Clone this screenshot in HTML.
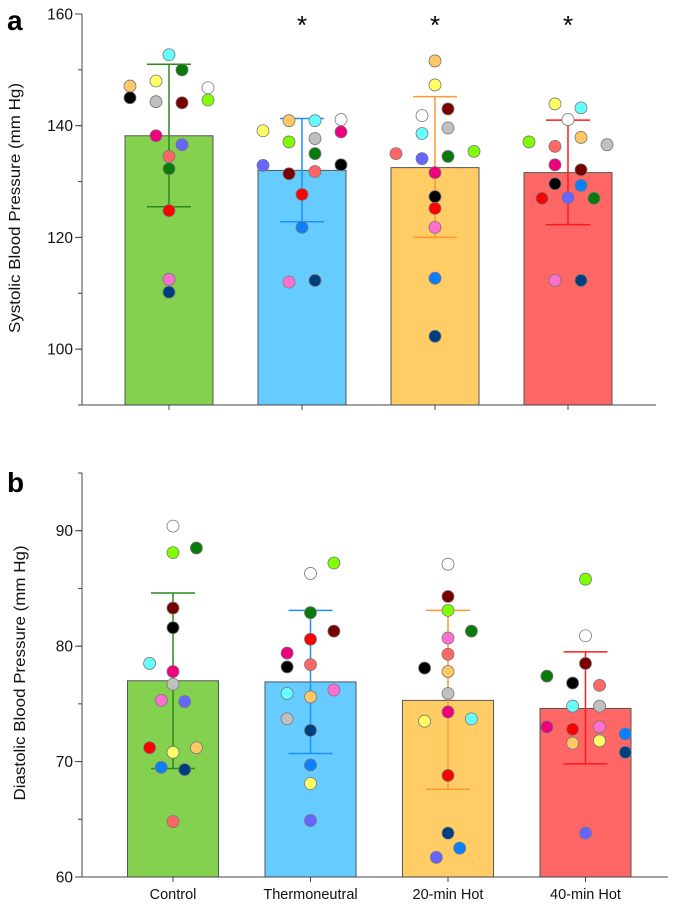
<!DOCTYPE html>
<html><head><meta charset="utf-8"><style>
body{margin:0;background:#fff;}
svg text{font-family:"Liberation Sans",Arial,sans-serif;}
</style></head><body>
<svg id="chart" width="680" height="910" viewBox="0 0 680 910" xmlns="http://www.w3.org/2000/svg"></svg>
<script>
const categories=["Control","Thermoneutral","20-min Hot","40-min Hot"];
const sysMeans=[138.2,132,132.5,131.6];
const sysLow=[125.5,122.8,120,122.3];
const sysHigh=[151,141.3,145.2,141];
const diaMeans=[77,76.9,75.3,74.6];
const diaLow=[69.4,70.7,67.6,69.8];
const diaHigh=[84.6,83.1,83.1,79.5];
const sysTicks=[100,120,140,160];
const diaTicks=[60,70,80,90];
const sig=[false,true,true,true];
const sysPts=[
 [[152.7,'cy',0],[150,'dg',1],[147.1,'or',-3],[148,'ye',-1],[146.8,'wh',3],[145,'bk',-3],[144.3,'gr',-1],[144.1,'dr',1],[144.6,'lg',3],[138.2,'mg',-1],[136.6,'pu',1],[134.5,'sa',0],[132.3,'dg',0],[124.8,'rd',0],[112.5,'pk',0],[110.2,'db',0]],
 [[139.1,'ye',-3],[140.9,'or',-1],[140.9,'cy',1],[141.1,'wh',3],[138.9,'mg',3],[137.1,'lg',-1],[137.7,'gr',1],[135,'dg',1],[132.9,'pu',-3],[133,'bk',3],[131.4,'dr',-1],[131.8,'sa',1],[127.7,'rd',0],[121.8,'bl',0],[112,'pk',-1],[112.3,'db',1]],
 [[151.6,'or',0],[147.3,'ye',0],[141.8,'wh',-1],[143,'dr',1],[138.6,'cy',-1],[139.6,'gr',1],[135,'sa',-3],[134.1,'pu',-1],[134.5,'dg',1],[135.4,'lg',3],[131.6,'mg',0],[127.3,'bk',0],[125.2,'rd',0],[121.8,'pk',0],[112.7,'bl',0],[102.3,'db',0]],
 [[143.9,'ye',-1],[143.2,'cy',1],[141.1,'wh',0],[137.1,'lg',-3],[136.3,'sa',-1],[137.9,'or',1],[136.6,'gr',3],[133,'mg',-1],[132.1,'dr',1],[129.6,'bk',-1],[129.3,'bl',1],[127,'rd',-2],[127.1,'pu',0],[127,'dg',2],[112.3,'pk',-1],[112.3,'db',1]]
];
const diaPts=[
 [[90.4,'wh',0],[88.1,'lg',0],[88.5,'dg',2],[83.3,'dr',0],[81.6,'bk',0],[78.5,'cy',-2],[77.8,'mg',0],[76.7,'gr',0],[75.3,'pk',-1],[75.2,'pu',1],[71.2,'rd',-2],[70.8,'ye',0],[71.2,'or',2],[69.5,'bl',-1],[69.3,'db',1],[64.8,'sa',0]],
 [[87.2,'lg',2],[86.3,'wh',0],[82.9,'dg',0],[81.3,'dr',2],[80.6,'rd',0],[79.4,'mg',-2],[78.2,'bk',-2],[78.4,'sa',0],[75.9,'cy',-2],[75.6,'or',0],[76.2,'pk',2],[73.7,'gr',-2],[72.7,'db',0],[69.7,'bl',0],[68.1,'ye',0],[64.9,'pu',0]],
 [[87.1,'wh',0],[84.3,'dr',0],[83.1,'lg',0],[81.3,'dg',2],[80.7,'pk',0],[79.3,'sa',0],[78.1,'bk',-2],[77.8,'or',0],[75.9,'gr',0],[74.3,'mg',0],[73.5,'ye',-2],[73.7,'cy',2],[68.8,'rd',0],[63.8,'db',0],[62.5,'bl',1],[61.7,'pu',-1]],
 [[85.8,'lg',0],[80.9,'wh',0],[78.5,'dr',0],[77.4,'dg',-3.3],[76.8,'bk',-1.1],[76.6,'sa',1.2],[74.8,'cy',-1.1],[74.8,'gr',1.2],[73,'mg',-3.3],[72.8,'rd',-1.1],[73,'pk',1.2],[71.6,'or',-1.1],[71.8,'ye',1.2],[72.4,'bl',3.4],[70.8,'db',3.4],[63.8,'pu',0]]
];
const ptColors={cy:'#66ffff',dg:'#0a7a0a',or:'#ffc866',ye:'#ffff66',wh:'#ffffff',bk:'#000000',gr:'#c0c0c0',dr:'#7a0000',lg:'#80ff00',mg:'#f0007f',pu:'#6666ff',sa:'#ff6666',rd:'#ff0000',pk:'#ff6fcf',bl:'#0a80ff',db:'#003f7f'};
const barFill=['#84d14f','#66ccff','#ffcc66','#ff6666'];
const errCol=['#2a8a1a','#1e8fff','#ff9930','#ff1a1a'];
const NS='http://www.w3.org/2000/svg';
const svg=document.getElementById('chart');
function mk(t,a,p){const e=document.createElementNS(NS,t);for(const k in a)e.setAttribute(k,a[k]);(p||svg).appendChild(e);return e;}
function panel(cfg){
 const g=mk('g',{});
 
 
 const y=v=>cfg.y0-(v-cfg.vmin)/(cfg.vmax-cfg.vmin)*(cfg.y0-cfg.y1);
 const x=i=>cfg.cx0+i*cfg.step;
 categories.forEach((c,i)=>{
  const r=mk('rect',{x:x(i)-cfg.bw/2,y:y(cfg.means[i]),width:cfg.bw,height:cfg.y0-y(cfg.means[i]),fill:barFill[i],stroke:'#555','stroke-width':1},g);
  
  
 });
 categories.forEach((c,i)=>{
  const eg=mk('g',{stroke:errCol[i],'stroke-width':1.5},g);
  
  
  mk('line',{x1:x(i),x2:x(i),y1:y(cfg.low[i]),y2:y(cfg.high[i])},eg);
  mk('line',{x1:x(i)-22,x2:x(i)+22,y1:y(cfg.low[i]),y2:y(cfg.low[i])},eg);
  mk('line',{x1:x(i)-22,x2:x(i)+22,y1:y(cfg.high[i]),y2:y(cfg.high[i])},eg);
 });
 cfg.pts.forEach((grp,i)=>{grp.forEach(p=>{
  const c=mk('circle',{cx:x(i)+p[2]*cfg.jit,cy:y(p[0]),r:6,fill:ptColors[p[1]],stroke:'#777','stroke-width':0.8},g);
  
  
 });});
 const ax=mk('path',{d:`M${cfg.ax} ${cfg.y1} V${cfg.y0} H${cfg.axr}`,fill:'none',stroke:'#444','stroke-width':1},g);
 
 
 for(let v=cfg.vmin;v<=cfg.vmax;v+=cfg.minor){mk('line',{x1:cfg.ax-4,x2:cfg.ax,y1:y(v),y2:y(v),stroke:'#444'},g);}
 cfg.ticks.forEach(v=>{
  mk('line',{x1:cfg.ax-7,x2:cfg.ax,y1:y(v),y2:y(v),stroke:'#444'},g);
  const t=mk('text',{x:cfg.ax-9,y:y(v)+5.5,'text-anchor':'end','font-size':15.5,fill:'#111'},g);
  t.textContent=v;
  
  
 });
 categories.forEach((c,i)=>{mk('line',{x1:x(i),x2:x(i),y1:cfg.y0,y2:cfg.y0+5,stroke:'#444'},g);});
 const yt=mk('text',{x:0,y:0,transform:`translate(${cfg.tx},${cfg.tcy}) rotate(-90)`,'text-anchor':'middle','font-size':16,fill:'#111',textLength:cfg.tlen,lengthAdjust:'spacingAndGlyphs'},g);
 yt.textContent=cfg.title;
 
 
 const pl=mk('text',{x:7,y:cfg.labY,'font-size':28,'font-weight':'bold',fill:'#000'},g);
 pl.textContent=cfg.label;
 
 
 if(cfg.sig){categories.forEach((c,i)=>{if(sig[i]){
  const s=mk('text',{x:x(i),y:34,'text-anchor':'middle','font-size':26,fill:'#000'},g);
  s.textContent='*';
  
  
 }});}
 if(cfg.xlabels){categories.forEach((c,i)=>{
  const t=mk('text',{x:x(i),y:899,'text-anchor':'middle','font-size':14.5,fill:'#111'},g);
  t.textContent=c;
  
  
 });}
}
panel({name:'panel-a-systolic',vmin:90,vmax:160,y0:405,y1:14,cx0:169,step:133,bw:88,ax:82,axr:656,means:sysMeans,low:sysLow,high:sysHigh,pts:sysPts,jit:13,ticks:sysTicks,minor:10,title:'Systolic Blood Pressure (mm Hg)',tx:20,tcy:208,tlen:250,label:'a',labY:30,sig:true});
panel({name:'panel-b-diastolic',vmin:60,vmax:95,y0:877,y1:473,cx0:173,step:137.5,bw:91,ax:82,axr:668,means:diaMeans,low:diaLow,high:diaHigh,pts:diaPts,jit:11.7,ticks:diaTicks,minor:5,title:'Diastolic Blood Pressure (mm Hg)',tx:25,tcy:673,tlen:255,label:'b',labY:492,xlabels:true});
</script>
</body></html>
